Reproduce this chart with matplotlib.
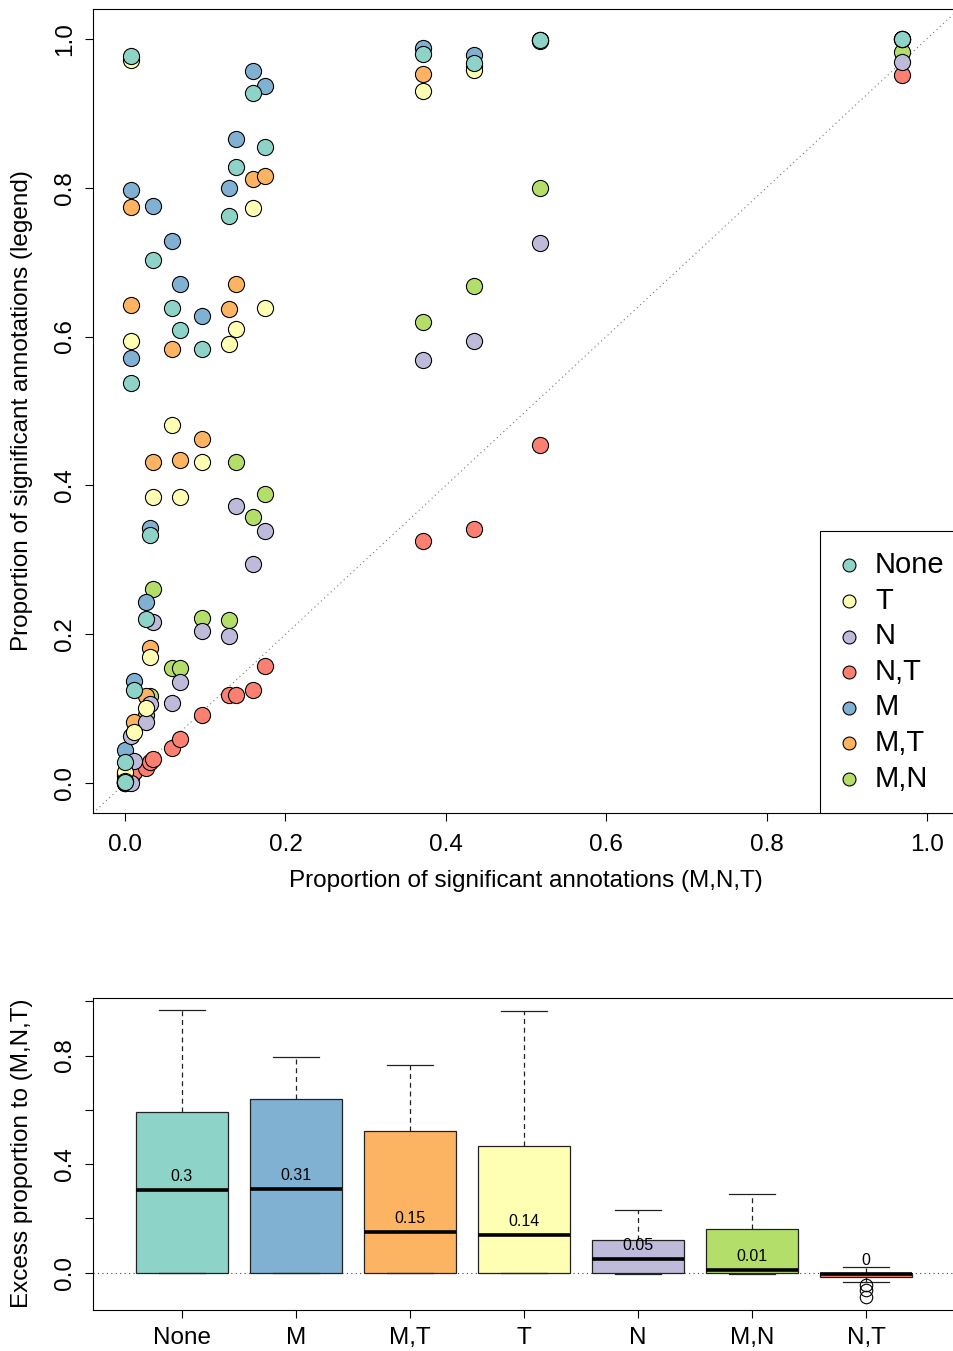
import numpy as np
import matplotlib
matplotlib.use("Agg")
from matplotlib import pyplot as plt

plt.rcParams['font.family'] = ['Liberation Sans', 'DejaVu Sans']
plt.rcParams['axes.linewidth'] = 0.8

# categories (legend order) and Set3 colours
cats = ["None", "T", "N", "N,T", "M", "M,T", "M,N"]
cols = ["#8DD3C7", "#FFFFB3", "#BEBADA", "#FB8072", "#80B1D3", "#FDB462", "#B3DE69"]

# proportion of significant annotations for (M,N,T), one per dataset
mnt = [0.0, 0.0, 0.007, 0.007, 0.011, 0.0256, 0.031, 0.035, 0.0588, 0.0683,
       0.0963, 0.1295, 0.1386, 0.160, 0.174, 0.372, 0.4354, 0.518, 0.969]

# proportion for each legend category, same dataset order as mnt
y_none = [0.028, 0.001, 0.977, 0.5375, 0.1253, 0.221, 0.334, 0.703, 0.639, 0.609,
          0.583, 0.762, 0.828, 0.927, 0.854, 0.979, 0.968, 0.998, 1.0]
y_t = [0.015, 0.003, 0.971, 0.594, 0.069, 0.1017, 0.170, 0.384, 0.481, 0.384,
       0.4315, 0.5895, 0.6106, 0.773, 0.639, 0.930, 0.958, 0.997, 1.0]
y_n = [0.004, 0.0, 0.063, 0.0, 0.03, 0.082, 0.107, 0.2166, 0.108, 0.136,
       0.2045, 0.198, 0.372, 0.294, 0.339, 0.568, 0.594, 0.726, 0.969]
y_nt = [0.0, 0.0, 0.0255, 0.008, 0.015, 0.021, 0.028, 0.033, 0.047, 0.059,
        0.0917, 0.118, 0.118, 0.125, 0.1575, 0.326, 0.341, 0.455, 0.952]
y_m = [0.0447, 0.002, 0.797, 0.571, 0.1374, 0.2435, 0.343, 0.776, 0.729, 0.670,
       0.6275, 0.799, 0.866, 0.957, 0.936, 0.988, 0.9776, 0.999, 1.0]
y_mt = [0.012, 0.002, 0.774, 0.643, 0.082, 0.117, 0.182, 0.4315, 0.583, 0.4337,
        0.462, 0.6365, 0.670, 0.811, 0.816, 0.953, 0.963, 0.998, 1.0]
y_mn = [0.01, 0.001, 0.0077, 0.012, 0.02, 0.0917, 0.117, 0.2614, 0.155, 0.155,
        0.2216, 0.219, 0.4315, 0.358, 0.389, 0.619, 0.668, 0.799, 0.982]
ys = [y_none, y_t, y_n, y_nt, y_m, y_mt, y_mn]

# boxplot of excess proportion (stats)
box_labels = ["None", "M", "M,T", "T", "N", "M,N", "N,T"]
box_cols = ["#8DD3C7", "#80B1D3", "#FDB462", "#FFFFB3", "#BEBADA", "#B3DE69", "#FB8072"]
box_med = [0.304, 0.309, 0.151, 0.139, 0.049, 0.010, -0.004]
box_q1 = [0.0, 0.0, 0.0, 0.0, 0.0, 0.0, -0.015]
box_q3 = [0.591, 0.640, 0.523, 0.468, 0.120, 0.161, 0.0]
box_lo = [0.0, 0.0, 0.0, 0.0, -0.006, -0.006, -0.035]
box_hi = [0.967, 0.795, 0.764, 0.963, 0.233, 0.292, 0.020]
box_out = [[], [], [], [], [], [], [-0.045, -0.065, -0.088]]

W, H = 954, 1351
fig = plt.figure(figsize=(W / 100, H / 100), dpi=100)

# ---------------- scatter ----------------
ax = fig.add_axes([93 / W, 1 - 813 / H, 866 / W, 804 / H])
ax.set_xlim(-0.04, 1.04)
ax.set_ylim(-0.04, 1.04)
ax.plot([-0.04, 1.04], [-0.04, 1.04], ls=(0, (1, 3)), color='#777777', lw=0.8, zorder=1)

handles = {}
for i in reversed(range(len(cats))):
    handles[cats[i]] = ax.scatter(mnt, ys[i], s=135, c=cols[i], edgecolors='black',
                                  linewidths=0.8, label=cats[i], zorder=2 + (6 - i))

ax.set_xticks(np.arange(0, 1.01, 0.2))
ax.set_yticks(np.arange(0, 1.01, 0.2))
ax.set_xticklabels([f"{v:.1f}" for v in np.arange(0, 1.01, 0.2)])
ax.set_yticklabels([f"{v:.1f}" for v in np.arange(0, 1.01, 0.2)], rotation=90, va='center')
ax.tick_params(direction='out', length=6, width=0.8, labelsize=17.5, pad=6)
ax.tick_params(axis='x', pad=9)
ax.set_xlabel("Proportion of significant annotations (M,N,T)", fontsize=17.5, va='center')
ax.xaxis.set_label_coords(0.5, -0.085)
ax.set_ylabel("Proportion of significant annotations (legend)", fontsize=17.5,
              va='center', ha='center')
ax.yaxis.set_label_coords(-0.082, 0.5)

leg = ax.legend([handles[c] for c in cats], cats, loc='lower right',
                bbox_to_anchor=(1 + 6 / 866, 0), borderaxespad=0,
                fontsize=21, scatterpoints=1, markerscale=0.8, handlelength=0.6,
                handletextpad=0.6, labelspacing=0.26, borderpad=0.7,
                fancybox=False, framealpha=1, edgecolor='black')
leg.get_frame().set_linewidth(0.8)

# ---------------- boxplot ----------------
bx = fig.add_axes([93 / W, 1 - 1310 / H, 862 / W, 312 / H])
bx.set_xlim(0.22, 7.78)
bx.set_ylim(-0.137, 1.012)
bx.axhline(0, ls=(0, (1, 3)), color='#444444', lw=0.8, zorder=1)

stats = []
for k in range(len(box_labels)):
    stats.append(dict(med=box_med[k], q1=box_q1[k], q3=box_q3[k],
                      whislo=box_lo[k], whishi=box_hi[k], fliers=box_out[k]))
pos = np.arange(1, len(box_labels) + 1)
bp = bx.bxp(stats, positions=pos, widths=0.8, patch_artist=True, showfliers=True,
            boxprops=dict(edgecolor='#222222', linewidth=0.9),
            medianprops=dict(color='black', linewidth=2.6),
            whiskerprops=dict(color='#222222', linestyle=(0, (4, 3)), linewidth=0.9),
            capprops=dict(color='#222222', linewidth=0.9),
            flierprops=dict(marker='o', markerfacecolor='none', markeredgecolor='black',
                            markersize=9, markeredgewidth=0.8))
for patch, c in zip(bp['boxes'], box_cols):
    patch.set_facecolor(c)
    patch.set_zorder(2)
for p, m in zip(pos, box_med):
    bx.text(p, m + 0.05, f"{round(m, 2) + 0.0:g}", ha='center', va='center', fontsize=11.5)

bx.set_xticks(pos)
bx.set_xticklabels(box_labels)
bx.set_yticks(np.arange(0, 1.01, 0.2))
bx.set_yticklabels(["0.0", "", "0.4", "", "0.8", ""], rotation=90, va='center')
bx.tick_params(direction='out', length=6, width=0.8, labelsize=17.5, pad=6)
bx.set_ylabel("Excess proportion to (M,N,T)", fontsize=17.5, va='center', ha='center')
bx.yaxis.set_label_coords(-0.082, 0.503)

fig.savefig("out.png", dpi=100)
